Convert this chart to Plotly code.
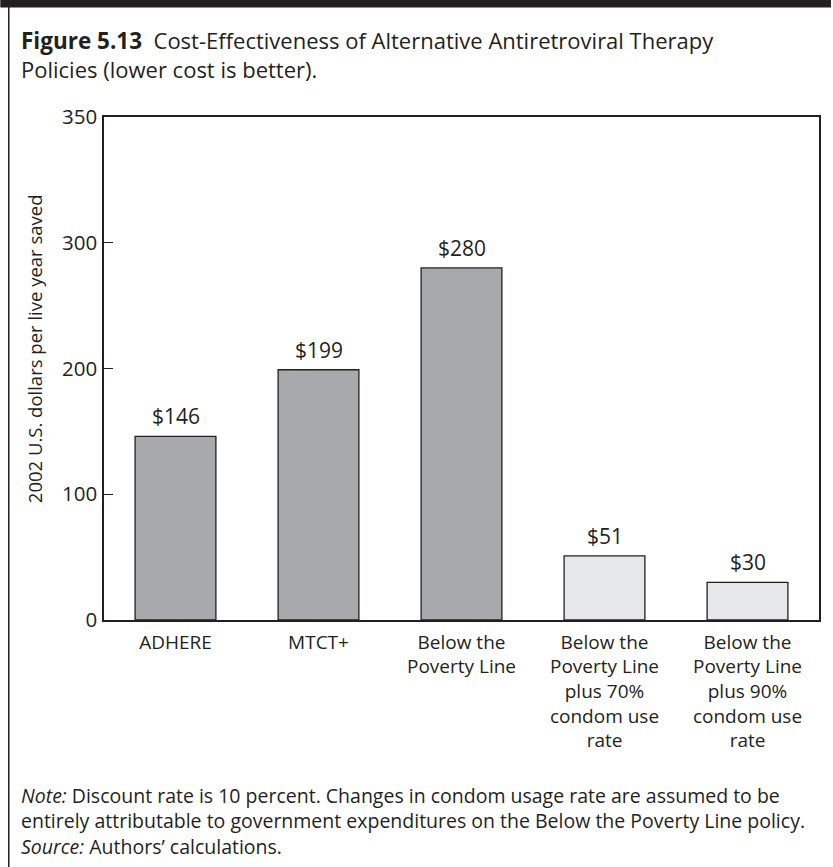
import plotly.graph_objects as go

categories = ["ADHERE", "MTCT+", "Below the<br>Poverty Line",
              "Below the<br>Poverty Line<br>plus 70%<br>condom use<br>rate",
              "Below the<br>Poverty Line<br>plus 90%<br>condom use<br>rate"]
values = [146, 199, 280, 51, 30]
value_labels = ["$146", "$199", "$280", "$51", "$30"]
bar_colors = ["#a7a9ac", "#a7a9ac", "#a7a9ac", "#e6e7e8", "#e6e7e8"]
y_tickvals = [0, 100, 200, 300, 400]
y_ticktext = ["0", "100", "200", "300", "350"]

W, H = 833, 867
L, R, T, B = 104, 12, 117, 247
PW, PH = W - L - R, H - T - B
FONT = "Open Sans"
INK = "#231f20"


def px(x):
    return (x - L) / PW


def py(y):
    return (H - B - y) / PH


fig = go.Figure()
fig.add_trace(go.Bar(
    x=categories, y=values,
    marker=dict(color=bar_colors, line=dict(color=INK, width=1.3)),
    hoverinfo="skip",
))

for c, v, t in zip(categories, values, value_labels):
    fig.add_annotation(x=c, y=v, text=t, showarrow=False, yanchor="bottom",
                       yshift=4, font=dict(family=FONT, size=21, color=INK))

# title
fig.add_annotation(xref="paper", yref="paper", x=px(19), y=py(54), xanchor="left", yanchor="middle",
                   text="<b><span style='font-size:22.5px'>Figure 5.13</span></b>&nbsp;&nbsp;Cost-Effectiveness of Alternative Antiretroviral Therapy<br>Policies (lower cost is better).",
                   showarrow=False, align="left", font=dict(family=FONT, size=22, color=INK))

# y-axis title
fig.add_annotation(xref="paper", yref="paper", x=px(34), y=py(349), xanchor="center", yanchor="middle",
                   text="2002 U.S. dollars per live year saved", textangle=-90,
                   showarrow=False, font=dict(family=FONT, size=18.5, color=INK))

# notes
notes = [
    "<i>Note:</i> Discount rate is 10 percent. Changes in condom usage rate are assumed to be",
    "entirely attributable to government expenditures on the Below the Poverty Line policy.",
    "<i>Source:</i> Authors’ calculations.",
]
fig.add_annotation(xref="paper", yref="paper", x=px(19), y=py(821), xanchor="left",
                   yanchor="middle", text="<br>".join(notes), showarrow=False, align="left",
                   font=dict(family=FONT, size=19.5, color=INK))

# frame: top black bar and left rule
fig.add_shape(type="rect", xref="paper", yref="paper", x0=px(0), x1=px(W), y0=py(7.5), y1=py(0),
              fillcolor=INK, line=dict(width=0), layer="above")
fig.add_shape(type="line", xref="paper", yref="paper", x0=px(8.5), x1=px(8.5), y0=py(7), y1=py(H),
              line=dict(color=INK, width=1.5), layer="above")

fig.update_layout(
    width=W, height=H,
    margin=dict(l=L, r=R, t=T, b=B),
    paper_bgcolor="white", plot_bgcolor="white",
    showlegend=False,
    bargap=0.435,
    font=dict(family=FONT, color=INK),
)
fig.update_xaxes(showline=True, linecolor=INK, linewidth=1.5, mirror=True, ticks="",
                 showgrid=False, tickfont=dict(family=FONT, size=19, color=INK), ticklabelstandoff=4)
fig.update_yaxes(range=[0, 400], tickvals=y_tickvals, ticktext=y_ticktext,
                 showline=True, linecolor=INK, linewidth=1.5, mirror=True,
                 ticks="inside", ticklen=9, tickcolor=INK, tickwidth=1.3,
                 showgrid=False, zeroline=False, ticklabelstandoff=1,
                 tickfont=dict(family=FONT, size=20.5, color=INK))

fig.write_html("out.html", config={"displayModeBar": False},
               post_script="document.body.style.margin='0';document.body.style.overflow='hidden';")
